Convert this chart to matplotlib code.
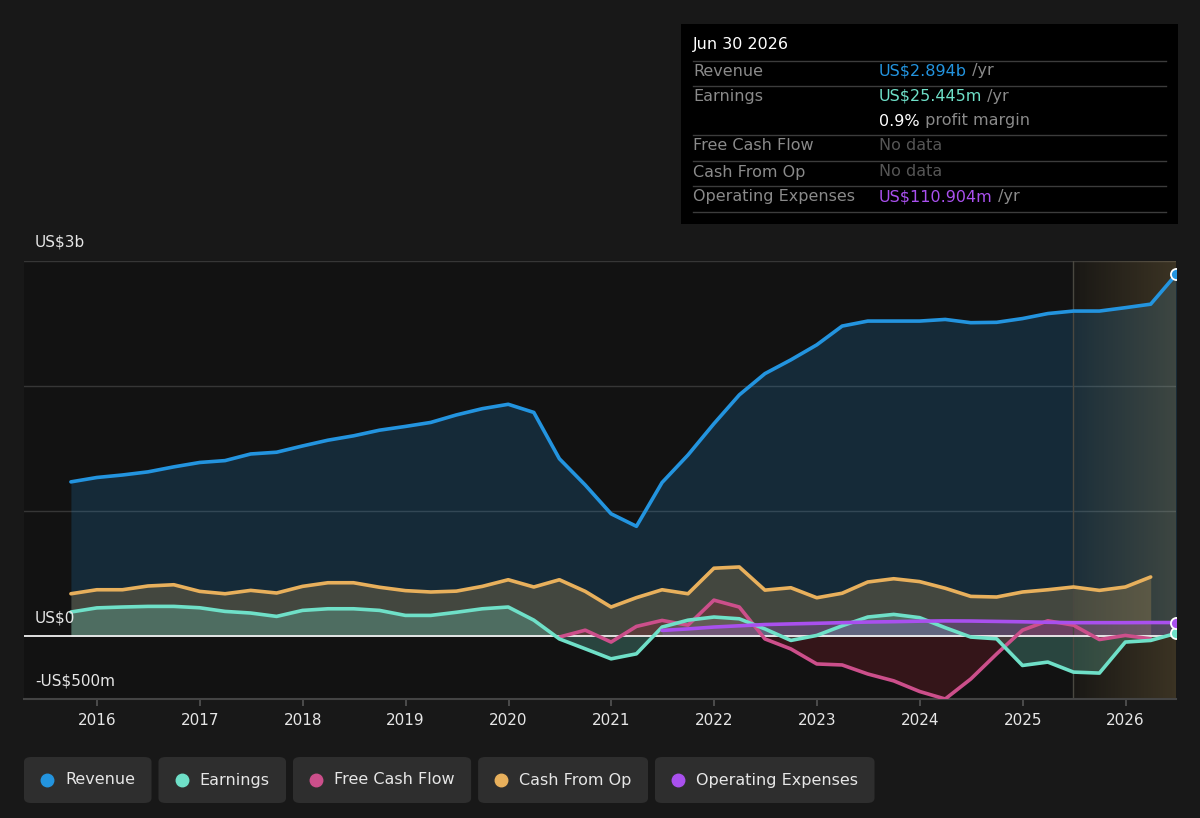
import numpy as np
import pandas as pd
import matplotlib
matplotlib.use('Agg')
import matplotlib.pyplot as plt
from matplotlib.patches import FancyBboxPatch, Rectangle
from matplotlib.lines import Line2D

# ---------------- data (US$ billions, quarterly, trailing 12m) ----------------
quarter_ends = pd.date_range('2015-09-30', '2026-06-30', freq='QE')  # 44 quarters

revenue = [1.235, 1.27, 1.29, 1.315, 1.355, 1.39, 1.405, 1.458, 1.472, 1.522,
           1.568, 1.603, 1.648, 1.678, 1.71, 1.77, 1.82, 1.855, 1.79, 1.42,
           1.21, 0.98, 0.88, 1.23, 1.45, 1.70, 1.93, 2.10, 2.21, 2.33,
           2.48, 2.52, 2.52, 2.52, 2.533, 2.507, 2.51, 2.54, 2.58, 2.60,
           2.60, 2.627, 2.655, 2.894]

earnings = [0.195, 0.228, 0.235, 0.24, 0.24, 0.229, 0.2, 0.187, 0.16, 0.208,
            0.221, 0.221, 0.208, 0.168, 0.168, 0.193, 0.221, 0.235, 0.13, -0.02,
            -0.099, -0.179, -0.139, 0.075, 0.13, 0.155, 0.141, 0.06, -0.032, 0.008,
            0.085, 0.155, 0.176, 0.15, 0.07, -0.005, -0.019, -0.232, -0.205, -0.285,
            -0.293, -0.045, -0.032, 0.025]

cash_from_op = [0.341, 0.373, 0.373, 0.403, 0.413, 0.36, 0.341, 0.368, 0.347, 0.40,
                0.429, 0.429, 0.393, 0.366, 0.355, 0.362, 0.40, 0.453, 0.395, 0.453,
                0.36, 0.235, 0.31, 0.373, 0.341, 0.545, 0.555, 0.37, 0.389, 0.309,
                0.345, 0.435, 0.461, 0.438, 0.385, 0.32, 0.315, 0.355, 0.373, 0.395,
                0.368, 0.395, 0.475]            # Sep 2015 .. Mar 2026

free_cash_flow = [-0.005, 0.05, -0.045, 0.08, 0.128, 0.09, 0.29, 0.235, -0.02, -0.10,
                  -0.22, -0.228, -0.30, -0.355, -0.44, -0.50, -0.34, -0.14, 0.05, 0.125,
                  0.09, -0.025, 0.008, -0.019]   # Jun 2020 .. Mar 2026
fcf_start = 19

operating_expenses = [0.048, 0.06, 0.075, 0.085, 0.095, 0.10, 0.105, 0.11, 0.115, 0.118,
                      0.122, 0.124, 0.123, 0.12, 0.117, 0.113, 0.11, 0.11, 0.11, 0.111,
                      0.111]                     # Jun 2021 .. Jun 2026
opex_start = 23

forecast_start = '2025-06-30'
year_ticks = list(range(2016, 2027))
series_names = ['Revenue', 'Earnings', 'Free Cash Flow', 'Cash From Op', 'Operating Expenses']

tooltip_date = 'Jun 30 2026'

# ---------------- styling ----------------
C_REV = '#2394df'
C_EARN = '#6fe0c8'
C_FCF = '#cc4f8b'
C_CFO = '#e8b05c'
C_OPEX = '#a950ee'
FIG_BG = '#181818'
AX_BG = '#121212'
TXT = '#e6e6e6'


def dec_year(d):
    d = pd.Timestamp(d)
    days = 366 if d.is_leap_year else 365
    return d.year + (d.dayofyear - 1) / days


x = np.array([dec_year(d) for d in quarter_ends])
x_fcf = x[fcf_start:fcf_start + len(free_cash_flow)]
x_cfo = x[:len(cash_from_op)]
x_opex = x[opex_start:opex_start + len(operating_expenses)]
fx0 = dec_year(forecast_start)

W, H = 1200, 818
fig = plt.figure(figsize=(W / 100, H / 100), dpi=100, facecolor=FIG_BG)


def fxy(px, py):
    return px / W, 1 - py / H


ax_l, ax_r, ax_t, ax_b = 24, 1176, 261, 699
ax = fig.add_axes([ax_l / W, 1 - ax_b / H, (ax_r - ax_l) / W, (ax_b - ax_t) / H])
ax.set_facecolor(AX_BG)
xmin, xmax = 2015.289, 2026.49
ax.set_xlim(xmin, xmax)
ax.set_ylim(-0.5, 3.0)

for s in ['top', 'right', 'left']:
    ax.spines[s].set_visible(False)
ax.spines['bottom'].set_color('#444444')
ax.spines['bottom'].set_linewidth(1.5)

# grid
for g in [1, 2, 3]:
    ax.axhline(g, color='#363636', lw=1.0, zorder=0.5)

# fills
rev = np.array(revenue)
ax.fill_between(x, rev, 0, color=C_REV, alpha=0.19, lw=0, zorder=1)
ax.fill_between(x_cfo, cash_from_op, 0, color=C_CFO, alpha=0.22, lw=0, zorder=1.1)
ax.fill_between(x, earnings, 0, color=C_EARN, alpha=0.25, lw=0, zorder=1.2)
fcf = np.array(free_cash_flow)
ax.fill_between(x_fcf, fcf, 0, color='#a82032', alpha=0.23, lw=0, zorder=1.3)
ax.fill_between(x_opex, operating_expenses, 0, color=C_OPEX, alpha=0.22, lw=0, zorder=1.4)

# forecast shading
ramp = np.linspace(0.04, 0.21, 200)
img = np.zeros((2, 200, 4))
img[..., 0] = 0.85
img[..., 1] = 0.70
img[..., 2] = 0.40
img[..., 3] = ramp[None, :]
ax.imshow(img, extent=[fx0, xmax, -0.5, 3.0], aspect='auto', zorder=1.6,
          interpolation='bilinear', origin='lower')
ax.axvline(fx0, color='#4a4840', lw=1.0, zorder=1.7)

# zero line
ax.axhline(0, color='#f0f0f0', lw=1.3, zorder=2)

# lines
lkw = dict(lw=2.6, solid_joinstyle='round', solid_capstyle='round', zorder=3)
ax.plot(x_cfo, cash_from_op, color=C_CFO, **lkw)
ax.plot(x_fcf, free_cash_flow, color=C_FCF, **lkw)
ax.plot(x, earnings, color=C_EARN, **lkw)
ax.plot(x_opex, operating_expenses, color=C_OPEX, **lkw)
ax.plot(x, revenue, color=C_REV, **lkw)

# end markers
mk = dict(marker='o', markersize=8, markeredgecolor='white', markeredgewidth=1.3,
          linestyle='none', zorder=4)
ax.plot([x[-1]], [revenue[-1]], color=C_REV, **mk)
ax.plot([x[-1]], [earnings[-1]], color=C_EARN, **mk)
ax.plot([x_opex[-1]], [operating_expenses[-1]], color=C_OPEX, **mk)

# ticks
ax.set_xticks(year_ticks)
ax.set_xticklabels([str(y) for y in year_ticks], color=TXT, fontsize=11)
ax.tick_params(axis='x', colors='#555555', length=5, width=1.2, pad=5, labelcolor=TXT)
ax.set_yticks([])

# y labels
ylab = [(3.0, 'US$3b', 242), (0.0, 'US$0', 618), (-0.5, '-US$500m', 681)]
for _, lab, py in ylab:
    fig.text(*fxy(35, py), lab, color=TXT, fontsize=11, va='center', ha='left')

# ---------------- tooltip ----------------
tx0, ty0, tx1, ty1 = 681, 24, 1178, 224
fig.patches.append(Rectangle(fxy(tx0, ty1), (tx1 - tx0) / W, (ty1 - ty0) / H,
                             transform=fig.transFigure, facecolor='#000000',
                             edgecolor='none', zorder=5))
renderer = fig.canvas.get_renderer()
FS = 11.5
GRAY = '#8a8a8a'
DIM = '#555555'
fig.text(*fxy(693, 45), tooltip_date, color='#ffffff', fontsize=FS, va='center', zorder=6)
for py in [60.7, 85.7, 135, 161.3, 185.7, 212.3]:
    fig.add_artist(Line2D([693 / W, 1166 / W], [1 - py / H] * 2, color='#3c3c3c', lw=1.0,
                          transform=fig.transFigure, zorder=6))


def seg_text(px, py, parts):
    cur = px
    for txt, col in parts:
        t = fig.text(*fxy(cur, py), txt, color=col, fontsize=FS, va='center', zorder=6)
        bb = t.get_window_extent(renderer)
        cur += bb.width


rows = [
    (71, 'Revenue', [('US$2.894b', C_REV), (' /yr', GRAY)]),
    (96, 'Earnings', [('US$25.445m', C_EARN), (' /yr', GRAY)]),
    (121, '', [('0.9%', '#ffffff'), (' profit margin', GRAY)]),
    (146, 'Free Cash Flow', [('No data', DIM)]),
    (172, 'Cash From Op', [('No data', DIM)]),
    (197, 'Operating Expenses', [('US$110.904m', C_OPEX), (' /yr', GRAY)]),
]
for py, lab, parts in rows:
    if lab:
        fig.text(*fxy(693, py), lab, color=GRAY, fontsize=FS, va='center', zorder=6)
    seg_text(879, py, parts)

# ---------------- legend ----------------
leg_colors = [C_REV, C_EARN, C_FCF, C_CFO, C_OPEX]
bx = 24
by0, by1 = 757, 803
for name, col in zip(series_names, leg_colors):
    t = fig.text(*fxy(bx + 41, (by0 + by1) / 2), name, color=TXT, fontsize=FS,
                 va='center', ha='left', zorder=6)
    tw = t.get_window_extent(renderer).width
    bw = 41 + tw + 16.5
    box = FancyBboxPatch(fxy(bx, by1), bw / W, (by1 - by0) / H,
                         boxstyle='round,pad=0,rounding_size=0.006',
                         transform=fig.transFigure, facecolor='#2e2e2e',
                         edgecolor='none', zorder=5)
    fig.patches.append(box)
    fig.add_artist(Line2D([(bx + 23) / W], [1 - (by0 + by1) / 2 / H], marker='o',
                          markersize=9, color=col, linestyle='none',
                          transform=fig.transFigure, zorder=6))
    bx += bw + 7

fig.savefig('out.png', dpi=100, facecolor=FIG_BG)
